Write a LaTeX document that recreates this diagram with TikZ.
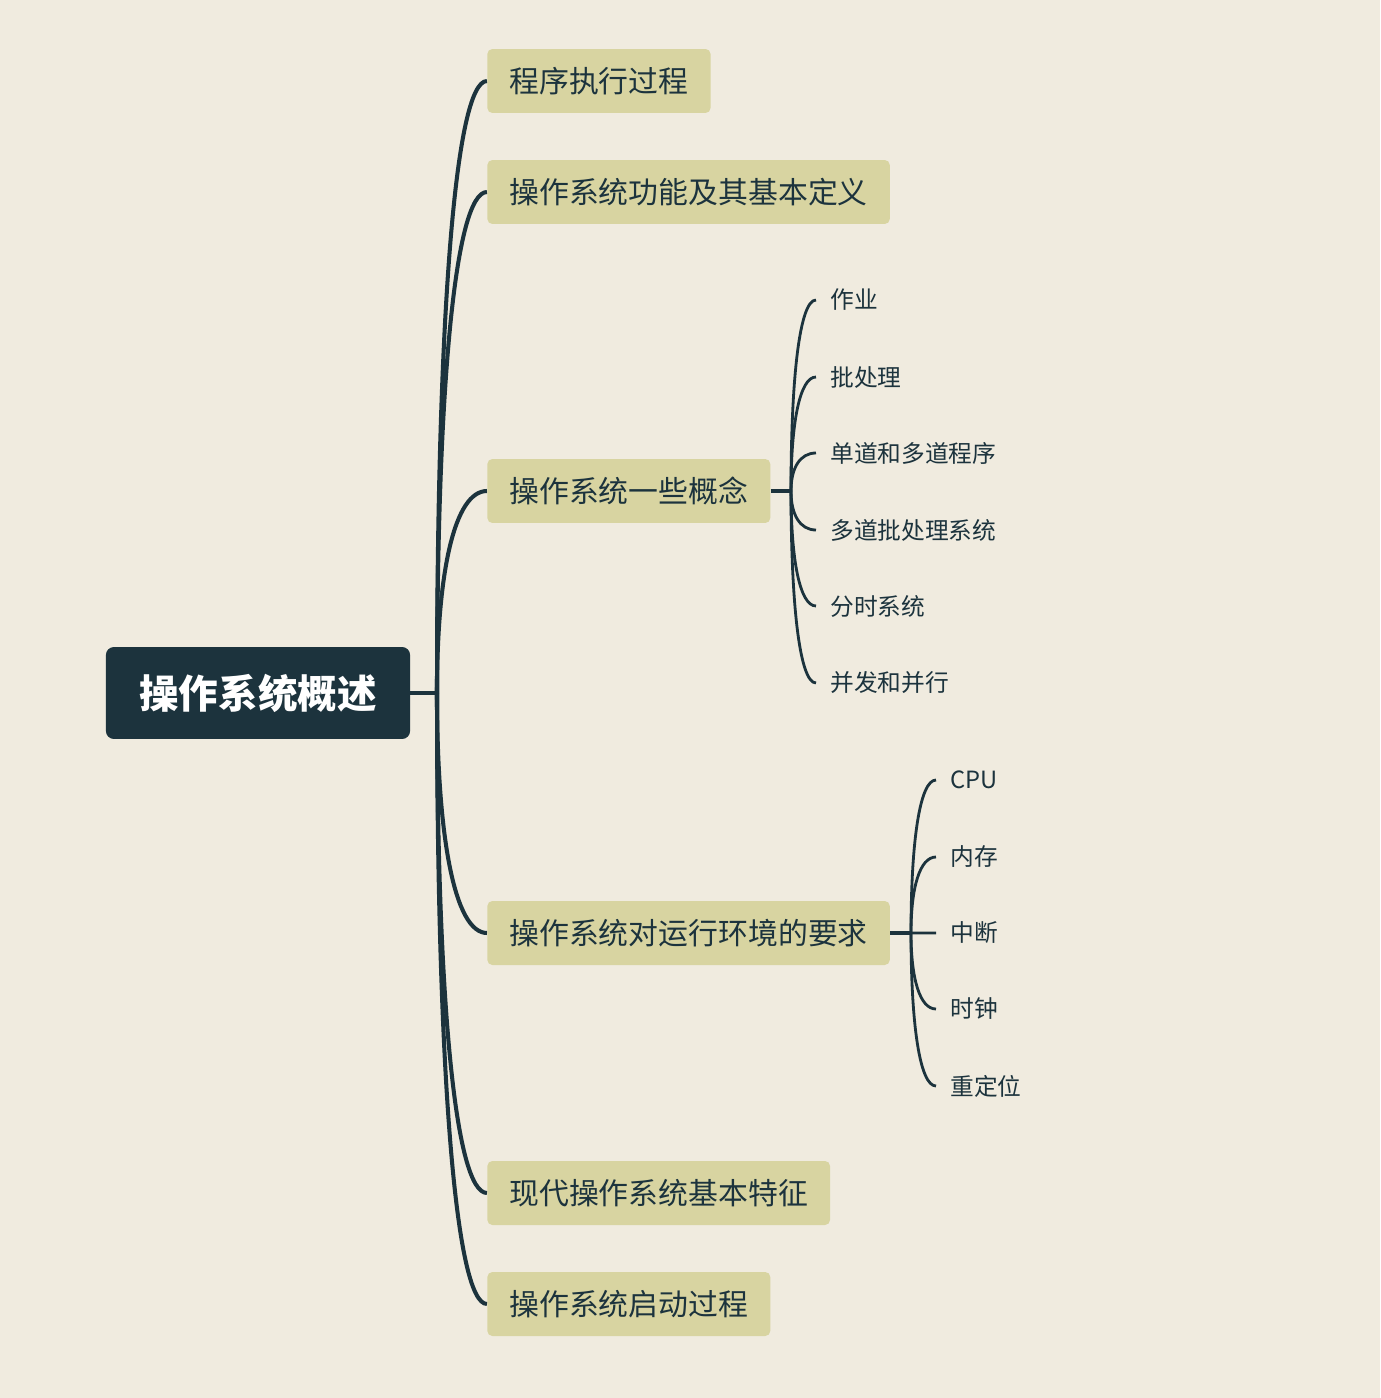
\documentclass[tikz,border=0pt]{standalone}
\usepackage{fontspec}
\setmainfont{Noto Sans CJK SC}
\usetikzlibrary{calc}
\pgfdeclarelayer{bg}
\pgfsetlayers{bg,main}
\definecolor{paper}{HTML}{F0EBDF}
\definecolor{ink}{HTML}{1C333D}
\definecolor{topicfill}{HTML}{D8D4A1}
\tikzset{
    every node/.style={inner sep=0mm, text=ink},
    root/.style={fill=ink, text=white, rounded corners=0.16cm, minimum height=1.84cm, inner xsep=0.67cm, font=\fontsize{22.5}{26}\selectfont\bfseries},
    topic/.style={fill=topicfill, rounded corners=0.1cm, minimum height=1.28cm, inner xsep=0.44cm, anchor=west, font=\fontsize{17}{20}\selectfont},
    leaf/.style={anchor=west, inner xsep=0.28cm, font=\fontsize{13.5}{16}\selectfont},
    trunk/.style={draw=ink, line width=2.3pt},
    twig/.style={draw=ink, line width=1.6pt},
    branch/.style={to path={.. controls ($(\tikztostart)!0.6!(\tikztostart |- \tikztotarget)$) and ($(\tikztotarget)!0.65!(\tikztostart |- \tikztotarget)$) .. (\tikztotarget)}}
}
\begin{document}
\begin{tikzpicture}[x=0.02cm, y=-0.02cm, line cap=round]
        \begin{pgfonlayer}{bg}
                \fill[paper] (0,0) rectangle (1380,1398);
        \end{pgfonlayer}
        \useasboundingbox (0,0) rectangle (1380,1398);
        % main topic and first level
        \node (r) [root] at (258, 693) {操作系统概述};
        \coordinate (h0) at (437, 693);
        \node (c1) [topic] at (487, 81) {程序执行过程};
        \node (c2) [topic] at (487, 192) {操作系统功能及其基本定义};
        \node (c3) [topic] at (487, 491) {操作系统一些概念};
        \node (c4) [topic] at (487, 933) {操作系统对运行环境的要求};
        \node (c5) [topic] at (487, 1193) {现代操作系统基本特征};
        \node (c6) [topic] at (487, 1304) {操作系统启动过程};
        % second level
        \coordinate (h3) at (791, 491);
        \node (a1) [leaf] at (816, 300) {作业};
        \node (a2) [leaf] at (816, 377) {批处理};
        \node (a3) [leaf] at (816, 453) {单道和多道程序};
        \node (a4) [leaf] at (816, 530) {多道批处理系统};
        \node (a5) [leaf] at (816, 606) {分时系统};
        \node (a6) [leaf] at (816, 683) {并发和并行};
        \coordinate (h4) at (911, 933);
        \node (b1) [leaf] at (936, 780) {CPU};
        \node (b2) [leaf] at (936, 857) {内存};
        \node (b3) [leaf] at (936, 933) {中断};
        \node (b4) [leaf] at (936, 1009) {时钟};
        \node (b5) [leaf] at (936, 1086) {重定位};
        \begin{pgfonlayer}{bg}
                \draw [trunk, line width=2.8pt] (r.east) -- (h0);
                \draw (h0) edge [branch, trunk] (c1.west);
                \draw (h0) edge [branch, trunk] (c2.west);
                \draw (h0) edge [branch, trunk] (c3.west);
                \draw (h0) edge [branch, trunk] (c4.west);
                \draw (h0) edge [branch, trunk] (c5.west);
                \draw (h0) edge [branch, trunk] (c6.west);
                \draw [trunk] (c3.east) -- (h3);
                \draw (h3) edge [branch, twig] (a1.west);
                \draw (h3) edge [branch, twig] (a2.west);
                \draw (h3) edge [branch, twig] (a3.west);
                \draw (h3) edge [branch, twig] (a4.west);
                \draw (h3) edge [branch, twig] (a5.west);
                \draw (h3) edge [branch, twig] (a6.west);
                \draw [trunk] (c4.east) -- (h4);
                \draw (h4) edge [branch, twig] (b1.west);
                \draw (h4) edge [branch, twig] (b2.west);
                \draw (h4) edge [branch, twig] (b3.west);
                \draw (h4) edge [branch, twig] (b4.west);
                \draw (h4) edge [branch, twig] (b5.west);
        \end{pgfonlayer}
\end{tikzpicture}
\end{document}
